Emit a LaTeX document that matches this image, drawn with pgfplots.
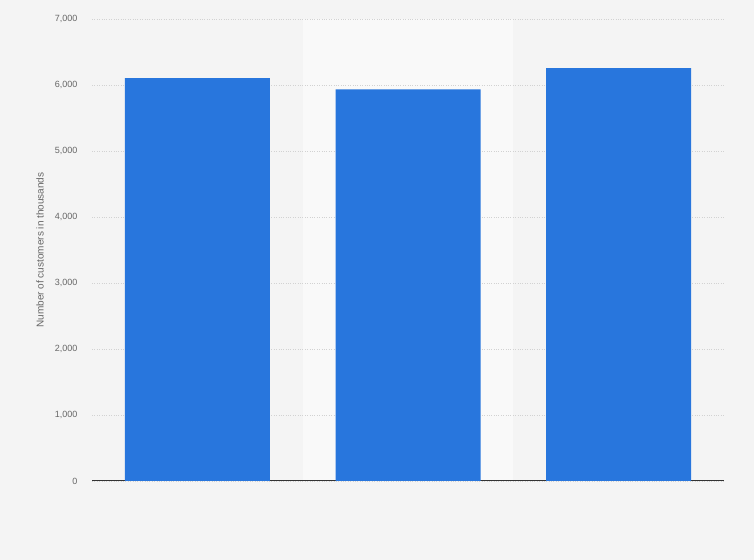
\documentclass[border=0pt]{standalone}
\usepackage{pgfplots}
\pgfplotsset{compat=1.18}
\usepackage{fontspec}
\setmainfont{Liberation Sans}
\definecolor{bgcol}{HTML}{F4F4F4}
\definecolor{bandcol}{HTML}{F9F9F9}
\definecolor{barblue}{HTML}{2876DD}
\definecolor{gridcol}{HTML}{D2D2D2}
\definecolor{labcol}{HTML}{666666}
\definecolor{axiscol}{HTML}{333333}
\pagecolor{bgcol}

\pgfplotstableread{
x y
0 6105
1 5935
2 6255
}\customers

\begin{document}
\begin{tikzpicture}[x=1bp,y=1bp]
\path (0,0) rectangle (754,560);
\begin{axis}[
    set layers,
    at={(92bp,79bp)}, anchor=south west,
    scale only axis,
    width=632bp, height=462bp,
    xmin=-0.5, xmax=2.5,
    ymin=0, ymax=7000,
    ytick={0,1000,...,7000},
    xtick=\empty,
    axis x line*=bottom,
    axis y line*=left,
    y axis line style={draw=none},
    x axis line style={axiscol, line width=1pt, -},
    ymajorgrids,
    grid style={gridcol, dotted, line width=0.6pt},
    major tick length=0pt,
    yticklabel style={font=\fontsize{9bp}{10bp}\selectfont, text=labcol, xshift=-11bp},
    /pgf/number format/.cd, 1000 sep={,}, assume math mode=true,
    /pgfplots/.cd,
    ylabel={Number of customers in thousands},
    every axis y label/.style={at={(rel axis cs:0,0.5)}, rotate=90, anchor=center,
        yshift=52bp, font=\fontsize{10bp}{11bp}\selectfont, text=labcol},
    clip=false,
]
\pgfonlayer{axis background}
\fill[bandcol] (axis cs:0.5,0) rectangle (axis cs:1.5,7000);
\endpgfonlayer
\addplot[ybar, bar width=145bp, fill=barblue, draw=none] table[x=x, y=y] {\customers};
\end{axis}
\end{tikzpicture}
\end{document}
